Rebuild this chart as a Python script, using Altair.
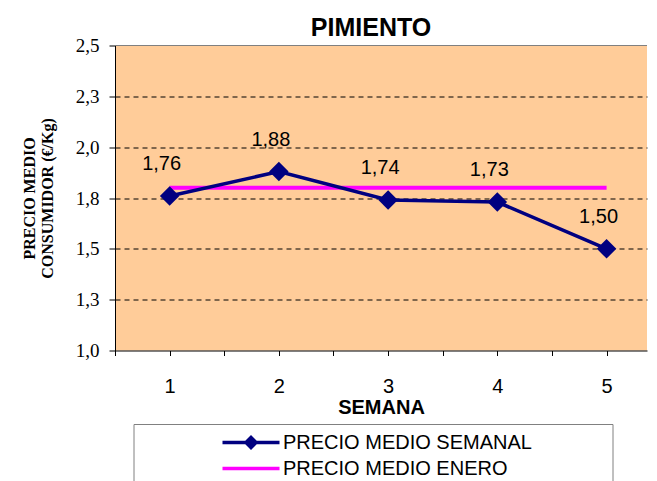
import altair as alt
import pandas as pd

# ---- data ----
WEEKS = [1, 2, 3, 4, 5]
WEEKLY_PRICE = [1.76, 1.88, 1.74, 1.73, 1.50]
JAN_PRICE = 1.80
SERIES = ["PRECIO MEDIO SEMANAL", "PRECIO MEDIO ENERO"]
COLORS = ["#000080", "#FF00FF"]
Y_TICKS = [1.0, 1.25, 1.5, 1.75, 2.0, 2.25, 2.5]
Y_LABELS = ["1,0", "1,3", "1,5", "1,8", "2,0", "2,3", "2,5"]
X_TICKS = [0.5, 1, 1.5, 2, 2.5, 3, 3.5, 4, 4.5, 5]
# the reference is cropped at its right edge, before the last category boundary
X_DOMAIN = [0.5, 5.37]

df_week = pd.DataFrame({"semana": WEEKS, "precio": WEEKLY_PRICE, "serie": SERIES[0]})
df_jan = pd.DataFrame({"semana": WEEKS, "precio": [JAN_PRICE] * len(WEEKS), "serie": SERIES[1]})
df_all = pd.concat([df_week, df_jan], ignore_index=True)

y_label_expr = "[" + ",".join("'%s'" % s for s in Y_LABELS) + "][indexof([" + ",".join(str(v) for v in Y_TICKS) + "], datum.value)]"

x_enc = alt.X(
    "semana:Q",
    scale=alt.Scale(domain=X_DOMAIN, nice=False, zero=False),
    axis=alt.Axis(
        values=X_TICKS,
        labelExpr="(datum.value % 1 === 0) ? format(datum.value, 'd') : ''",
        title="SEMANA",
        titleFont="Liberation Sans", titleFontSize=20, titleFontWeight="bold",
        titleColor="black", titlePadding=1,
        labelFont="Liberation Sans", labelFontSize=20, labelColor="black",
        labelPadding=21, tickSize=5, tickColor="black",
        domainColor="black", grid=False, labelFlush=False,
    ),
)
y_enc = alt.Y(
    "precio:Q",
    scale=alt.Scale(domain=[1.0, 2.5], nice=False, zero=False),
    axis=alt.Axis(
        values=Y_TICKS,
        labelExpr=y_label_expr,
        title=["PRECIO MEDIO", "CONSUMIDOR  (€/Kg)"],
        titleFont="Liberation Serif", titleFontSize=16, titleFontWeight="bold",
        titleColor="black", titleLineHeight=18, titlePadding=20,
        labelFont="Liberation Serif", labelFontSize=19, labelColor="black",
        labelPadding=10, tickSize=6, tickColor="black",
        domainColor="black",
        grid=True, gridColor="black", gridDash=[5, 4], gridWidth=1,
        gridOpacity={"condition": {"test": "datum.value >= 2.49 || datum.value <= 1.01", "value": 0}, "value": 1},
    ),
)

base = alt.Chart(df_all).encode(x=x_enc, y=y_enc)

top_border = alt.Chart(pd.DataFrame({"a": [0]})).mark_rule(
    color="#808080", strokeWidth=1
).encode(y=alt.datum(Y_TICKS[-1]))

jan_line = base.transform_filter(alt.datum.serie == SERIES[1]).mark_line(
    color=COLORS[1], strokeWidth=4
)
week_line = base.transform_filter(alt.datum.serie == SERIES[0]).mark_line(
    color=COLORS[0], strokeWidth=3.5
)
week_pts = base.transform_filter(alt.datum.serie == SERIES[0]).mark_point(
    shape="diamond", filled=True, size=380, color=COLORS[0], opacity=1
)
labels = base.transform_filter(alt.datum.serie == SERIES[0]).transform_calculate(
    lab="replace(format(datum.precio, '.2f'), '.', ',')"
).mark_text(
    dx=-8, dy=-32, font="Liberation Sans", fontSize=20, color="black"
).encode(text="lab:N")

PATH_WEEK = "M-2.85,0L2.85,0M0,-0.5L0.5,0L0,0.5L-0.5,0Z"
PATH_JAN = "M-2.85,0L2.85,0"

legend_layer = base.transform_filter("false").mark_point(
    filled=True, size=400, strokeWidth=3.5, opacity=1
).encode(
    color=alt.Color(
        "serie:N",
        scale=alt.Scale(domain=SERIES, range=COLORS),
        legend=alt.Legend(
            title=None, orient="none", legendX=124, legendY=385,
            labelFont="Liberation Sans", labelFontSize=20, labelColor="black",
            labelOffset=20, labelLimit=400, rowPadding=2, padding=0,
            symbolSize=400, symbolStrokeWidth=3.5, symbolOpacity=1,
        ),
    ),
    stroke=alt.Stroke("serie:N", scale=alt.Scale(domain=SERIES, range=COLORS)),
    shape=alt.Shape("serie:N", scale=alt.Scale(domain=SERIES, range=[PATH_WEEK, PATH_JAN])),
)

legend_box = alt.Chart(pd.DataFrame({"a": [0]})).mark_rect(
    fillOpacity=0, stroke="#808080", strokeWidth=1
).encode(
    x=alt.value(19), x2=alt.value(498), y=alt.value(379), y2=alt.value(445)
)

chart = alt.layer(
    top_border, jan_line, week_line, week_pts, labels, legend_layer, legend_box
).properties(
    width=532, height=305,
    title=alt.TitleParams(
        "PIMIENTO", font="Liberation Sans", fontSize=25, fontWeight="bold",
        color="black", anchor="middle", dx=-10, offset=-4.5,
    ),
    background="white",
    padding={"left": 13, "top": 7.5, "right": 0, "bottom": 0},
).configure_view(
    fill="#FFCC99", stroke="transparent", strokeWidth=0
)

chart.save("out.html", embed_options={"renderer": "svg", "actions": False})
